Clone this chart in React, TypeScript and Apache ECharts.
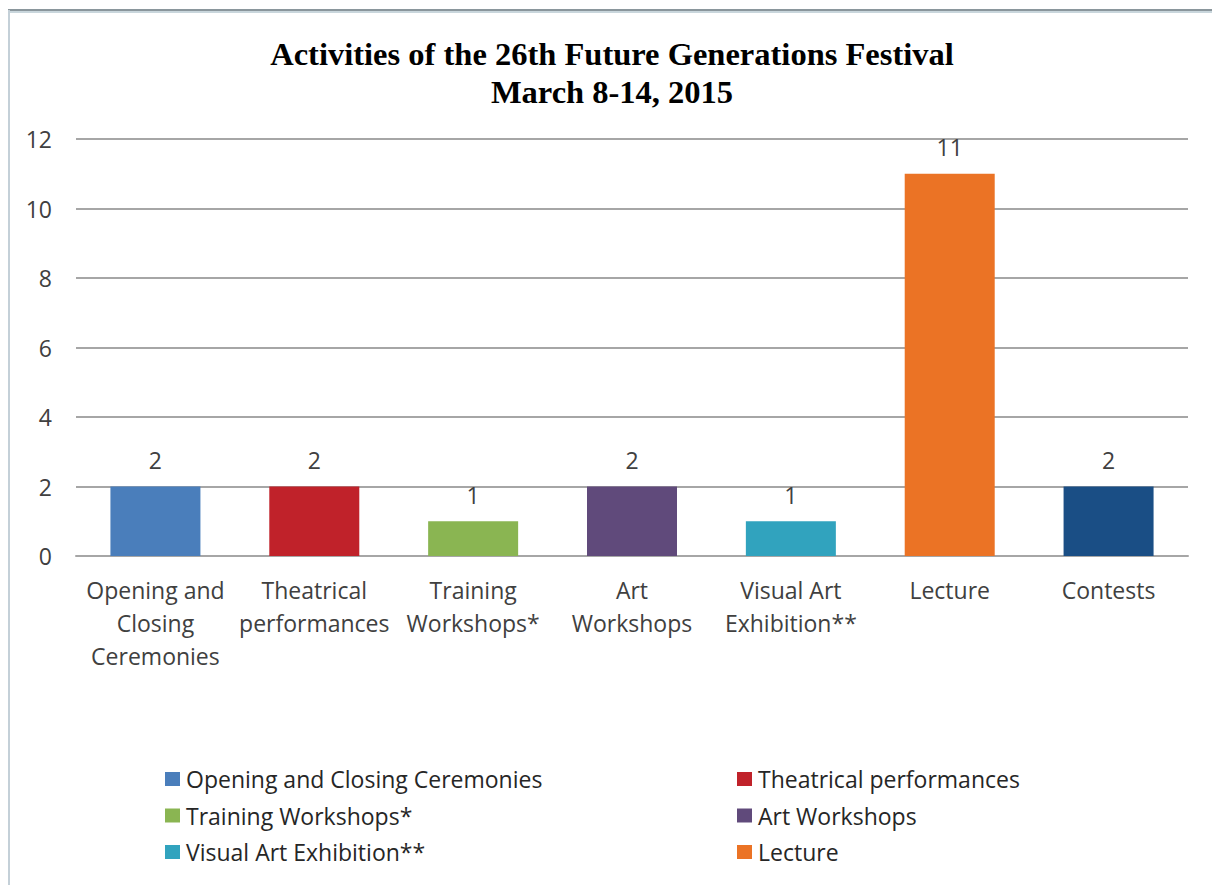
import React, { useEffect, useRef } from "react";
import * as echarts from "echarts";

const categories = [
  "Opening and Closing Ceremonies",
  "Theatrical performances",
  "Training Workshops*",
  "Art Workshops",
  "Visual Art Exhibition**",
  "Lecture",
  "Contests",
];
const axisLabels = [
  "Opening and\nClosing\nCeremonies",
  "Theatrical\nperformances",
  "Training\nWorkshops*",
  "Art\nWorkshops",
  "Visual Art\nExhibition**",
  "Lecture",
  "Contests",
];
const values = [2, 2, 1, 2, 1, 11, 2];
const colors = ["#4a7ebb", "#c0222a", "#8ab552", "#604a7b", "#31a3be", "#eb7325", "#1a4e85"];
const legendLeft = ["Opening and Closing Ceremonies", "Training Workshops*", "Visual Art Exhibition**"];
const legendRight = ["Theatrical performances", "Art Workshops", "Lecture"];

const SANS = "'Open Sans', 'Noto Sans', sans-serif";

export default function App() {
  const ref = useRef<HTMLDivElement>(null);
  useEffect(() => {
    document.body.style.margin = "0";
    if (!ref.current) return;
    const chart = echarts.init(ref.current, null, { renderer: "svg" });
    const series = categories.map((name, i) => ({
      name,
      type: "bar",
      stack: "all",
      barWidth: 90,
      itemStyle: { color: colors[i] },
      label: {
        show: true,
        position: "top",
        distance: 15,
        fontFamily: SANS,
        fontSize: 23,
        color: "#404040",
      },
      data: values.map((v, j) => (j === i ? v : "-")),
    }));
    const legendCommon = {
      orient: "vertical",
      itemWidth: 15,
      itemHeight: 14,
      itemGap: 12.5,
      icon: "rect",
      textStyle: { fontFamily: SANS, fontSize: 23, lineHeight: 24, color: "#262626", padding: [0, 0, 0, 1] },
      top: 762,
    };
    chart.setOption({
      animation: false,
      backgroundColor: "#ffffff",
      title: {
        text: "Activities of the 26th Future Generations Festival\nMarch 8-14, 2015",
        left: 607,
        textAlign: "center",
        top: 30,
        textStyle: {
          fontFamily: "'Liberation Serif', 'Times New Roman', serif",
          fontWeight: "bold",
          fontSize: 32.5,
          lineHeight: 38,
          color: "#000000",
        },
      },
      legend: [
        { ...legendCommon, left: 160, data: legendLeft },
        { ...legendCommon, left: 732, data: legendRight },
      ],
      grid: { left: 76, right: 24, top: 139, bottom: 329, containLabel: false },
      xAxis: {
        type: "category",
        data: axisLabels,
        axisLine: { show: true, lineStyle: { color: "#a6a6a6", width: 2 } },
        axisTick: { show: false },
        axisLabel: {
          interval: 0,
          margin: 17,
          fontFamily: SANS,
          fontSize: 23,
          lineHeight: 33,
          color: "#404040",
        },
      },
      yAxis: {
        type: "value",
        min: 0,
        max: 12,
        interval: 2,
        axisLine: { show: false },
        axisTick: { show: false },
        splitLine: { lineStyle: { color: "#a6a6a6", width: 2 } },
        axisLabel: { margin: 24, fontFamily: SANS, fontSize: 23, color: "#404040" },
      },
      graphic: [
        { type: "line", shape: { x1: 8, y1: 10, x2: 1212, y2: 10 }, style: { stroke: "#8a969c", lineWidth: 2 } },
        { type: "line", shape: { x1: 8, y1: 12, x2: 1212, y2: 12 }, style: { stroke: "#c9d6dc", lineWidth: 2 } },
        { type: "line", shape: { x1: 9, y1: 10, x2: 9, y2: 885 }, style: { stroke: "#c4d0d8", lineWidth: 2 } },
      ],
      series,
    });
    return () => chart.dispose();
  }, []);
  return <div ref={ref} style={{ width: 1212, height: 885 }} />;
}
